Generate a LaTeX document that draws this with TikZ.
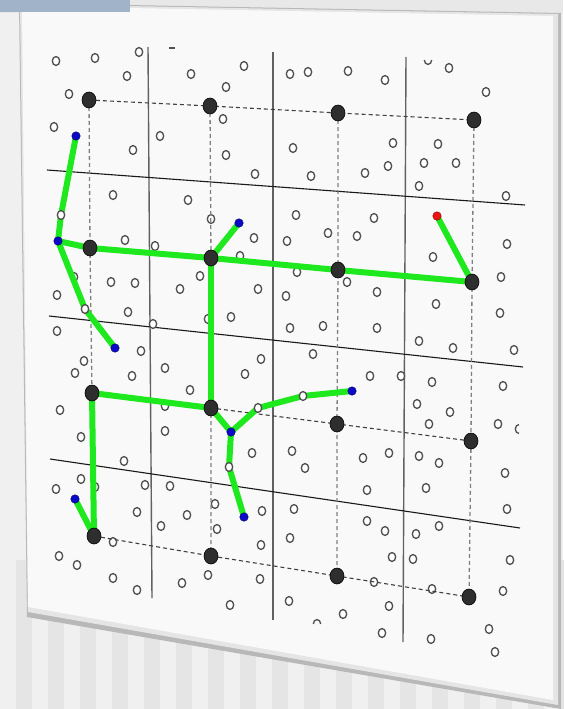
\documentclass[tikz,border=0pt]{standalone}
\usetikzlibrary{shapes.geometric}
\definecolor{gline}{RGB}{30,232,30}
\definecolor{bgc}{RGB}{240,240,240}
\definecolor{stripec}{RGB}{229,229,229}
\definecolor{barc}{RGB}{160,179,201}
\definecolor{facec}{RGB}{249,249,249}
\definecolor{bluec}{RGB}{10,10,200}
\definecolor{redc}{RGB}{235,20,20}
\begin{document}
\begin{tikzpicture}[x=1pt,y=-1pt,
  gridv/.style={draw=black!62,line width=1.4pt},
  gridh/.style={draw=black!90,line width=1.1pt},
  dashh/.style={draw=black!75,line width=1.1pt,dash pattern=on 4pt off 3pt},
  dashv/.style={draw=black!50,line width=1.3pt,dash pattern=on 4pt off 3pt},
  gedge/.style={draw=gline,line width=6pt,line cap=round},
  smallc/.style={ellipse,draw=black!68,fill=white,line width=1.35pt,minimum width=7.4pt,minimum height=8.8pt,inner sep=0pt},
  smallarc/.style={draw=black!68,line width=1.35pt},
  bignode/.style={ellipse,fill=black!82,draw=black,line width=0.6pt,minimum width=14pt,minimum height=16pt,inner sep=0pt},
  bluedot/.style={circle,fill=bluec,draw=blue!40!black,line width=0.4pt,minimum size=8.5pt,inner sep=0pt},
  reddot/.style={circle,fill=redc,draw=red!50!black,line width=0.4pt,minimum size=8.5pt,inner sep=0pt}]
\useasboundingbox (0,0) rectangle (563,709);
% background
\fill[bgc] (0,0) rectangle (563,709);
\foreach \sx in {16,48,...,560} \fill[stripec] (\sx,560) rectangle ++(16,149);
\fill[black!9] (0,0) rectangle (563,13);
% panel bevel and face
\fill[black!28] (19,3) -- (561,13) -- (561,709) -- (27,617) -- cycle;
\fill[black!10] (20,4) -- (558,14) -- (558,705) -- (28,612) -- cycle;
\fill[facec] (22,6) -- (553,16) -- (553,700) -- (28,607) -- cycle;
\fill[barc] (0,0) rectangle (130,12);
% solid grid lines
\draw[gridv] (148,47) -- (152,598);
\draw[gridv] (273,52) -- (273,620);
\draw[gridv] (406,57) -- (403,642);
\draw[gridh] (47,170) -- (525,205);
\draw[gridh] (49,316) -- (523,367);
\draw[gridh] (50,459) -- (520,528);
% small circles
\foreach \cx/\cy [count=\ci] in {
56/61,95/58,139/52,127/76,69/94,54/127,133/150,160/136,191/74,244/66,226/87,223/119,226/155,255/174,290/74,293/148,113/195,188/200,211/219,254/238,287/241,296/215,125/240,155/246,
308/72,348/71,385/80,449/68,486/92,311/176,393/143,365/173,388/166,438/144,424/163,456/163,419/186,506/196,374/218,328/233,357/236,507/244,
240/256,74/277,111/282,135/283,180/289,200/276,258/289,286/296,297/272,57/295,128/312,231/317,208/319,153/324,290/328,57/331,141/351,261/359,84/361,75/373,132/376,165/368,245/374,190/390,165/406,60/410,81/437,165/431,252/453,292/451,124/461,81/479,
433/257,347/282,377/292,436/304,501/277,500/313,323/326,377/328,419/341,453/348,514/350,313/354,370/376,401/376,432/382,503/386,417/404,450/412,429/424,498/424,305/468,363/458,389/453,419/456,439/463,505/473,
56/489,95/487,145/485,170/486,137/512,161/526,187/515,215/504,217/529,262/511,261/545,294/509,290/538,113/542,59/556,77/565,113/578,137/590,182/583,208/575,260/579,230/605,289/601,
367/490,426/488,507/509,367/521,385/531,416/534,439/526,392/557,413/559,510/560,374/582,432/589,503/591,343/614,389/606,382/633,431/639,489/629,495/652}
  \node[smallc] (c\ci) at (\cx,\cy) {};
% partial circles at the edges of the view
\draw[smallarc] (431.7,60) arc[start angle=0,end angle=180,x radius=3.7,y radius=4.4];
\draw[smallarc] (313.3,624) arc[start angle=180,end angle=360,x radius=3.7,y radius=4.4];
\draw[smallarc] (519,433.4) arc[start angle=90,end angle=270,x radius=3.7,y radius=4.4];
\draw[smallarc] (169,48) -- (175,48);
% grid node coordinates
\coordinate (n11) at (89,100);  \coordinate (n12) at (210,106); \coordinate (n13) at (338,113); \coordinate (n14) at (474,120);
\coordinate (n21) at (90,248);  \coordinate (n22) at (211,258); \coordinate (n23) at (338,270); \coordinate (n24) at (472,282);
\coordinate (n31) at (92,393);  \coordinate (n32) at (211,408); \coordinate (n33) at (337,424); \coordinate (n34) at (471,441);
\coordinate (n41) at (94,536);  \coordinate (n42) at (211,556); \coordinate (n43) at (337,576); \coordinate (n44) at (469,597);
% dashed grid
\draw[dashv] (n11) -- (n21) -- (n31) -- (n41);
\draw[dashv] (n12) -- (n22) -- (n32) -- (n42);
\draw[dashv] (n13) -- (n23) -- (n33) -- (n43);
\draw[dashv] (n14) -- (n24) -- (n34) -- (n44);
\draw[dashh] (n11) -- (n12) -- (n13) -- (n14);
\draw[dashh] (n21) -- (n22) -- (n23) -- (n24);
\draw[dashh] (n31) -- (n32) -- (n33) -- (n34);
\draw[dashh] (n41) -- (n42) -- (n43) -- (n44);
% tree vertices
\coordinate (b1) at (76,136);  \coordinate (p1) at (61,215);  \coordinate (b2) at (58,241);
\coordinate (p2) at (85,309);  \coordinate (b3) at (115,348); \coordinate (b4) at (239,223);
\coordinate (r1) at (437,216); \coordinate (b5) at (75,499);  \coordinate (b6) at (231,432);
\coordinate (p3) at (258,408); \coordinate (p4) at (303,396); \coordinate (b7) at (352,391);
\coordinate (p5) at (229,467); \coordinate (b8) at (244,517);
% green tree
\draw[gedge] (b1) -- (p1) -- (b2);
\draw[gedge] (b2) -- (n21) -- (n22) -- (n23) -- (n24);
\draw[gedge] (b2) -- (p2) -- (b3);
\draw[gedge] (n22) -- (b4);
\draw[gedge] (r1) -- (n24);
\draw[gedge] (n22) -- (n32);
\draw[gedge] (n31) -- (n32);
\draw[gedge] (n31) -- (n41);
\draw[gedge] (b5) -- (n41);
\draw[gedge] (n32) -- (b6) -- (p3) -- (p4) -- (b7);
\draw[gedge] (b6) -- (p5) -- (b8);
% circles lying on the tree
\foreach \pn in {p1,p2,p3,p4,p5} \node[smallc] at (\pn) {};
% big nodes
\foreach \bn in {n11,n12,n13,n14,n21,n22,n23,n24,n31,n32,n33,n34,n41,n42,n43,n44}
  \node[bignode] at (\bn) {};
% coloured end points
\foreach \dn in {b1,b2,b3,b4,b5,b6,b7,b8} \node[bluedot] at (\dn) {};
\node[reddot] at (r1) {};
\end{tikzpicture}
\end{document}
